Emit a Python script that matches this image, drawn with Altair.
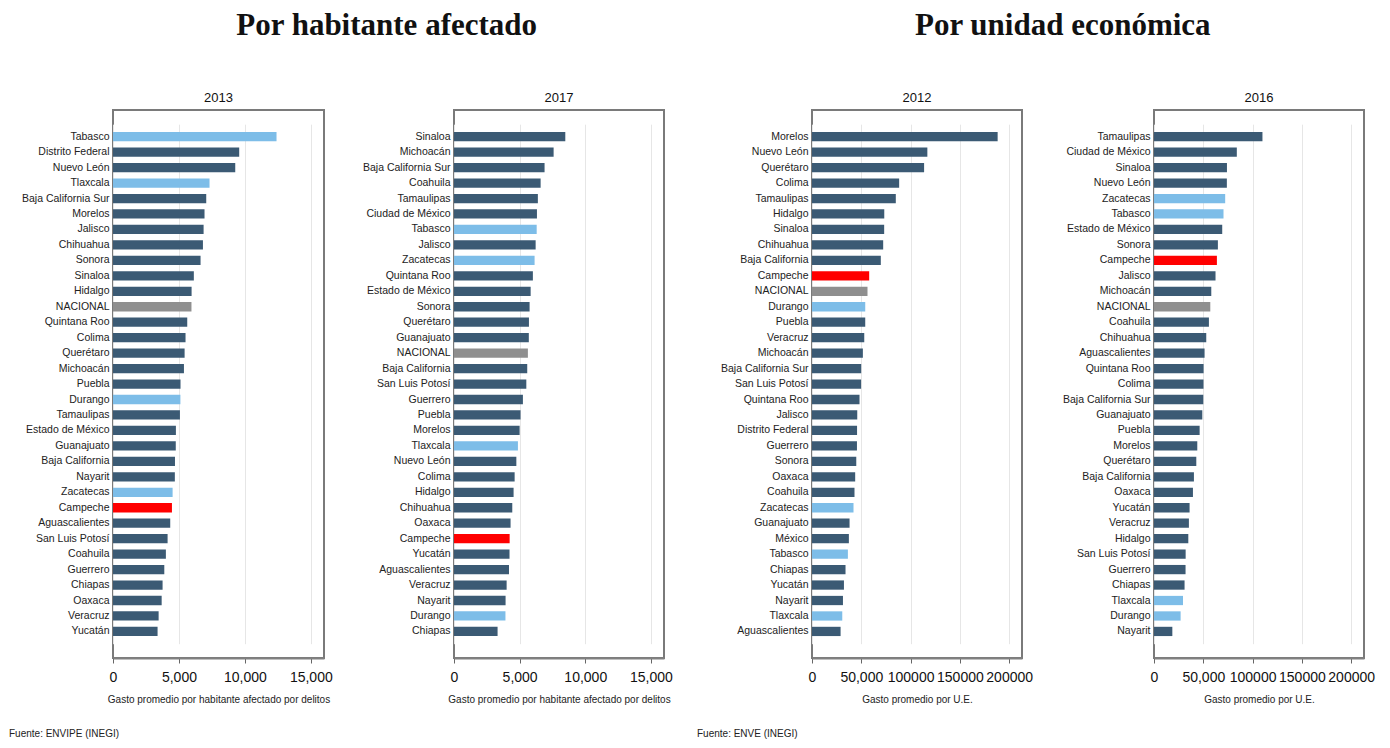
import altair as alt
import pandas as pd

# ---------------- data ----------------
estados_2013 = ["Tabasco", "Distrito Federal", "Nuevo León", "Tlaxcala", "Baja California Sur",
                "Morelos", "Jalisco", "Chihuahua", "Sonora", "Sinaloa", "Hidalgo", "NACIONAL",
                "Quintana Roo", "Colima", "Querétaro", "Michoacán", "Puebla", "Durango",
                "Tamaulipas", "Estado de México", "Guanajuato", "Baja California", "Nayarit",
                "Zacatecas", "Campeche", "Aguascalientes", "San Luis Potosí", "Coahuila",
                "Guerrero", "Chiapas", "Oaxaca", "Veracruz", "Yucatán"]
valores_2013 = [12400, 9570, 9270, 7320, 7070, 6940, 6870, 6820, 6640, 6130, 5960, 5950,
                5630, 5500, 5430, 5380, 5120, 5110, 5075, 4770, 4760, 4700, 4690,
                4520, 4470, 4340, 4140, 4010, 3890, 3760, 3690, 3460, 3380]

estados_2017 = ["Sinaloa", "Michoacán", "Baja California Sur", "Coahuila", "Tamaulipas",
                "Ciudad de México", "Tabasco", "Jalisco", "Zacatecas", "Quintana Roo",
                "Estado de México", "Sonora", "Querétaro", "Guanajuato", "NACIONAL",
                "Baja California", "San Luis Potosí", "Guerrero", "Puebla", "Morelos",
                "Tlaxcala", "Nuevo León", "Colima", "Hidalgo", "Chihuahua", "Oaxaca",
                "Campeche", "Yucatán", "Aguascalientes", "Veracruz", "Nayarit", "Durango",
                "Chiapas"]
valores_2017 = [8480, 7590, 6900, 6600, 6390, 6320, 6300, 6220, 6140, 6010,
                5840, 5760, 5710, 5700, 5630, 5580, 5510, 5250, 5070, 5000,
                4870, 4750, 4620, 4540, 4440, 4310, 4240, 4230, 4190, 4010, 3930, 3920,
                3320]

estados_2012 = ["Morelos", "Nuevo León", "Querétaro", "Colima", "Tamaulipas", "Hidalgo",
                "Sinaloa", "Chihuahua", "Baja California", "Campeche", "NACIONAL", "Durango",
                "Puebla", "Veracruz", "Michoacán", "Baja California Sur", "San Luis Potosí",
                "Quintana Roo", "Jalisco", "Distrito Federal", "Guerrero", "Sonora", "Oaxaca",
                "Coahuila", "Zacatecas", "Guanajuato", "México", "Tabasco", "Chiapas",
                "Yucatán", "Nayarit", "Tlaxcala", "Aguascalientes"]
valores_2012 = [188300, 117000, 113700, 88400, 85000, 73300, 73200, 72200, 69800, 58000,
                56300, 54000, 54000, 53000, 51600, 49900, 49800, 48200, 45900, 45700,
                45600, 44900, 43800, 43100, 42100, 38100, 37400, 36400, 34000, 32400,
                31400, 30700, 29000]

estados_2016 = ["Tamaulipas", "Ciudad de México", "Sinaloa", "Nuevo León", "Zacatecas",
                "Tabasco", "Estado de México", "Sonora", "Campeche", "Jalisco", "Michoacán",
                "NACIONAL", "Coahuila", "Chihuahua", "Aguascalientes", "Quintana Roo",
                "Colima", "Baja California Sur", "Guanajuato", "Puebla", "Morelos",
                "Querétaro", "Baja California", "Oaxaca", "Yucatán", "Veracruz", "Hidalgo",
                "San Luis Potosí", "Guerrero", "Chiapas", "Tlaxcala", "Durango", "Nayarit"]
valores_2016 = [110000, 84000, 74000, 73900, 72200, 70500, 69200, 64800, 63800, 62400,
                58100, 57100, 55700, 53000, 51300, 50300, 50200, 50000, 49000, 46300,
                43900, 42900, 40500, 39500, 36100, 35400, 34800, 32100, 32000, 31000,
                29400, 27000, 18600]

destacados = ["Tabasco", "Tlaxcala", "Durango", "Zacatecas"]

ticks_hab = [0, 5000, 10000, 15000]
ticks_ue = [0, 50000, 100000, 150000, 200000]

# ---------------- style ----------------
SANS = "Liberation Sans, Arial, sans-serif"
SERIF = "Liberation Serif, Times New Roman, serif"
H = 548
Y_RANGE = [14.3, 533.8]

tipo_dom = ["estado", "destacado", "nacional", "campeche"]
tipo_col = ["#3b5a74", "#7dbde8", "#8f8f8f", "#ff0000"]


def tipo(n):
    if n == "NACIONAL":
        return "nacional"
    if n == "Campeche":
        return "campeche"
    if n in destacados:
        return "destacado"
    return "estado"


def panel(estados, valores, anio, dominio, ticks, xtitle, width, extent,
          label_expr, footer=None):
    df = pd.DataFrame({"estado": estados, "valor": valores})
    df["tipo"] = [tipo(e) for e in estados]
    bars = alt.Chart(df).mark_bar().encode(
        y=alt.Y("estado:N", sort=estados, title=None,
                scale=alt.Scale(paddingInner=0.4, paddingOuter=0.5, range=Y_RANGE),
                axis=alt.Axis(minExtent=extent, maxExtent=extent, ticks=False,
                              domain=False, grid=False, labelPadding=4,
                              labelOverlap=False, labelFont=SANS,
                              labelFontSize=10.5, labelColor="#222")),
        x=alt.X("valor:Q", scale=alt.Scale(domain=dominio, nice=False, zero=True),
                axis=alt.Axis(values=ticks, labelExpr=label_expr, title=xtitle,
                              grid=True, gridColor="#e6e6e6", gridWidth=1,
                              ticks=True, tickSize=5, tickColor="#666",
                              domainColor="#808080", domainWidth=2, labelFont=SANS,
                              labelFontSize=14, labelColor="#111", labelPadding=7,
                              labelFlush=False, labelOverlap=False,
                              titleFont=SANS, titleFontSize=10,
                              titleFontWeight="normal", titleColor="#222",
                              titlePadding=10)),
        color=alt.Color("tipo:N", scale=alt.Scale(domain=tipo_dom, range=tipo_col),
                        legend=None),
    )
    layers = [bars]
    if footer:
        fdf = pd.DataFrame({"fuente": [footer]})
        layers.append(
            alt.Chart(fdf).mark_text(align="left", baseline="middle", font=SANS,
                                     fontSize=10, color="#222").encode(
                x=alt.value(-extent), y=alt.value(H + 76), text="fuente:N"))
    return alt.layer(*layers).properties(
        width=width, height=H,
        title=alt.TitleParams(anio, font=SANS, fontSize=13, fontWeight="normal",
                              color="#111", offset=5))


hab_expr = "format(datum.value, ',')"
ue_expr = "datum.value == 50000 ? '50,000' : format(datum.value, 'd')"

p1 = panel(estados_2013, valores_2013, "2013", [0, 16000], ticks_hab,
           "Gasto promedio por habitante afectado por delitos", 211, 104, hab_expr,
           footer="Fuente: ENVIPE (INEGI)")
p2 = panel(estados_2017, valores_2017, "2017", [0, 16000], ticks_hab,
           "Gasto promedio por habitante afectado por delitos", 210, 119, hab_expr)
p3 = panel(estados_2012, valores_2012, "2012", [0, 213000], ticks_ue,
           "Gasto promedio por U.E.", 210, 115, ue_expr,
           footer="Fuente: ENVE (INEGI)")
p4 = panel(estados_2016, valores_2016, "2016", [0, 213000], ticks_ue,
           "Gasto promedio por U.E.", 210, 119, ue_expr)

big = dict(font=SERIF, fontSize=31, fontWeight="bold", color="#111", anchor="middle")

izq = alt.hconcat(p1, p2, spacing=0).properties(
    title=alt.TitleParams("Por habitante afectado", dx=46, offset=49, **big))
der = alt.hconcat(p3, p4, spacing=0).properties(
    title=alt.TitleParams("Por unidad económica", dx=27, offset=49, **big))

chart = alt.hconcat(izq, der, spacing=22).properties(
    padding={"left": 0, "top": 2, "right": 0, "bottom": 0},
    background="white"
).configure_view(
    stroke="#7a7a7a", strokeWidth=2
)

chart.save("out.html", embed_options={"renderer": "svg", "actions": False})
